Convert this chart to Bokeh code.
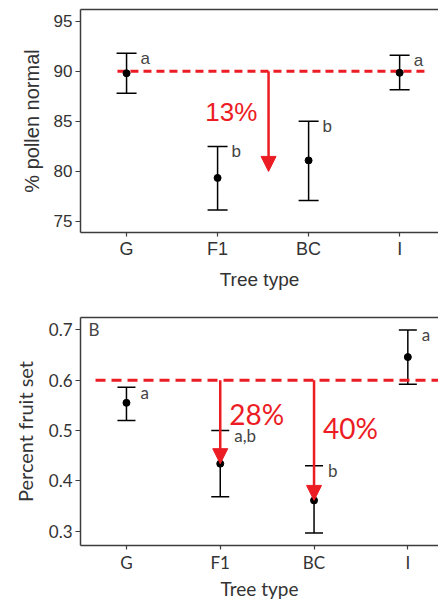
from bokeh.plotting import figure
from bokeh.models import (Range1d, FixedTicker, LinearAxis, Whisker, TeeHead, Arrow,
                          NormalHead, ColumnDataSource, Label)
from bokeh.layouts import column
from bokeh.embed import file_html
from bokeh.resources import INLINE
from bokeh.core.properties import value

# ---------------- data ----------------
categories = ["G", "F1", "BC", "I"]

pollen_mean = [89.8, 79.35, 81.1, 89.85]
pollen_upper = [91.8, 82.5, 85.0, 91.6]
pollen_lower = [87.8, 76.15, 77.1, 88.15]
pollen_letters = ["a", "b", "b", "a"]
pollen_ref = 90
pollen_drop_to = 80
pollen_drop_text = "13%"

fruit_mean = [0.555, 0.434, 0.361, 0.646]
fruit_upper = [0.586, 0.50, 0.430, 0.70]
fruit_lower = [0.52, 0.368, 0.296, 0.592]
fruit_letters = ["a", "a,b", "b", "a"]
fruit_ref = 0.6
fruit_drop_cats = ["F1", "BC"]
fruit_drop_text = ["28%", "40%"]

pollen_yticks = [75, 80, 85, 90, 95]
fruit_yticks = [0.3, 0.4, 0.5, 0.6, 0.7]

RED = "#ec1c24"
AX = "#3c3c3c"
TXT = "#333333"
LET = "#444444"

xs = list(range(len(categories)))


def make_fig(width, height, xr, yr, left, top, bottom, font, ytick_fs, xtick_fs,
             ytitle_fs, xtitle_fs, ylabel, yticks, ylab_standoff, xlab_standoff):
    p = figure(width=width, height=height, x_range=Range1d(*xr), y_range=Range1d(*yr),
               output_backend="svg", toolbar_location=None,
               min_border_left=left, min_border_right=0, min_border_top=top,
               min_border_bottom=bottom)
    p.outline_line_color = None
    p.grid.visible = False
    p.background_fill_color = "white"
    p.border_fill_color = "white"

    p.xaxis.ticker = FixedTicker(ticks=xs)
    p.xaxis.major_label_overrides = {i: c for i, c in enumerate(categories)}
    p.yaxis.ticker = FixedTicker(ticks=yticks)
    for ax in (p.xaxis, p.yaxis):
        ax.axis_line_color = AX
        ax.axis_line_width = 1.5
        ax.major_tick_line_color = AX
        ax.major_tick_line_width = 1.2
        ax.major_tick_in = 0
        ax.minor_tick_line_color = None
        ax.major_label_text_color = TXT
        ax.major_label_text_font = font
        ax.axis_label_text_font = font
        ax.axis_label_text_font_style = "normal"
        ax.axis_label_text_color = TXT
    p.yaxis.axis_label_text_font_size = ytitle_fs
    p.xaxis.axis_label_text_font_size = xtitle_fs
    p.yaxis.major_tick_out = 5
    p.xaxis.major_tick_out = 4
    p.yaxis.major_label_text_font_size = ytick_fs
    p.xaxis.major_label_text_font_size = xtick_fs
    p.yaxis.major_label_standoff = 3
    p.xaxis.major_label_standoff = 2
    p.yaxis.axis_label = ylabel
    p.xaxis.axis_label = "Tree type"
    p.yaxis.axis_label_standoff = ylab_standoff
    p.xaxis.axis_label_standoff = xlab_standoff

    top_axis = LinearAxis(ticker=FixedTicker(ticks=[]), major_tick_out=0, major_tick_in=0,
                          major_label_standoff=0, axis_line_color=AX, axis_line_width=1.5,
                          minor_tick_line_color=None, major_label_text_font_size="0px")
    p.add_layout(top_axis, "above")
    return p


def add_series(p, mean, upper, lower, letters, font, letter_fs, cap):
    src = ColumnDataSource(dict(x=xs, mean=mean, upper=upper, lower=lower, letter=letters))
    p.add_layout(Whisker(source=src, base="x", upper="upper", lower="lower",
                         line_color="black", line_width=1.5,
                         upper_head=TeeHead(size=cap, line_color="black", line_width=1.5),
                         lower_head=TeeHead(size=cap, line_color="black", line_width=1.5)))
    p.scatter("x", "mean", source=src, size=7, color="black")
    p.text(x="x", y="upper", text="letter", source=src, x_offset=14, y_offset=5,
           text_baseline="middle", text_align="left", text_font_size=letter_fs,
           text_color=LET, text_font=value(font))


# ---------------- top panel ----------------
F1 = "Liberation Sans"
p1 = make_fig(438, 303, (-0.506, 3.427), (73.9, 96.17), 75, 9, 71, F1,
              "17px", "18px", "20px", "19px", "% pollen normal", pollen_yticks, 8, 7)
p1.segment(x0=[xs[0] - 0.1], y0=[pollen_ref], x1=[xs[-1] + 0.29], y1=[pollen_ref],
           line_color=RED, line_width=3, line_dash="8 5")
add_series(p1, pollen_mean, pollen_upper, pollen_lower, pollen_letters, F1, "17px", 20)
ax1 = (categories.index("F1") + categories.index("BC")) / 2 + 0.06
p1.add_layout(Arrow(x_start=ax1, y_start=pollen_ref, x_end=ax1, y_end=pollen_drop_to,
                    line_color=RED, line_width=2.5,
                    end=NormalHead(size=15, fill_color=RED, line_color=RED)))
p1.text(x=[ax1 - 0.41], y=[pollen_ref - (pollen_ref - pollen_drop_to) * 0.41],
        text=[pollen_drop_text], text_align="center", text_baseline="middle",
        text_font_size="26px", text_color=RED, text_font=value(F1))

# ---------------- bottom panel ----------------
F2 = "Lato"
p2 = make_fig(438, 299, (-0.49, 3.327), (0.2713, 0.7247), 80, 14, 52, F2,
              "17px", "17px", "20px", "19px", "Percent fruit set", fruit_yticks, 9, 1)
p2.segment(x0=[xs[0] - 0.33], y0=[fruit_ref], x1=[xs[-1] + 1], y1=[fruit_ref],
           line_color=RED, line_width=3, line_dash="10 6")
add_series(p2, fruit_mean, fruit_upper, fruit_lower, fruit_letters, F2, "17px", 18)
for cat, txt in zip(fruit_drop_cats, fruit_drop_text):
    i = categories.index(cat)
    p2.add_layout(Arrow(x_start=i, y_start=fruit_ref, x_end=i, y_end=fruit_mean[i],
                        line_color=RED, line_width=2.5,
                        end=NormalHead(size=15, fill_color=RED, line_color=RED)))
    p2.text(x=[i], y=[fruit_ref - (fruit_ref - fruit_mean[i]) * 0.4], text=[txt],
            x_offset=9, text_align="left", text_baseline="middle",
            text_font_size="28px", text_color=RED, text_font=value(F2))
p2.add_layout(Label(x=-0.49, y=fruit_yticks[-1], text="B", x_offset=8,
                    text_baseline="middle", text_font_size="17px", text_color=LET,
                    text_font=F2))

layout = column(p1, p2)
open("out.html", "w").write(file_html(layout, INLINE))
